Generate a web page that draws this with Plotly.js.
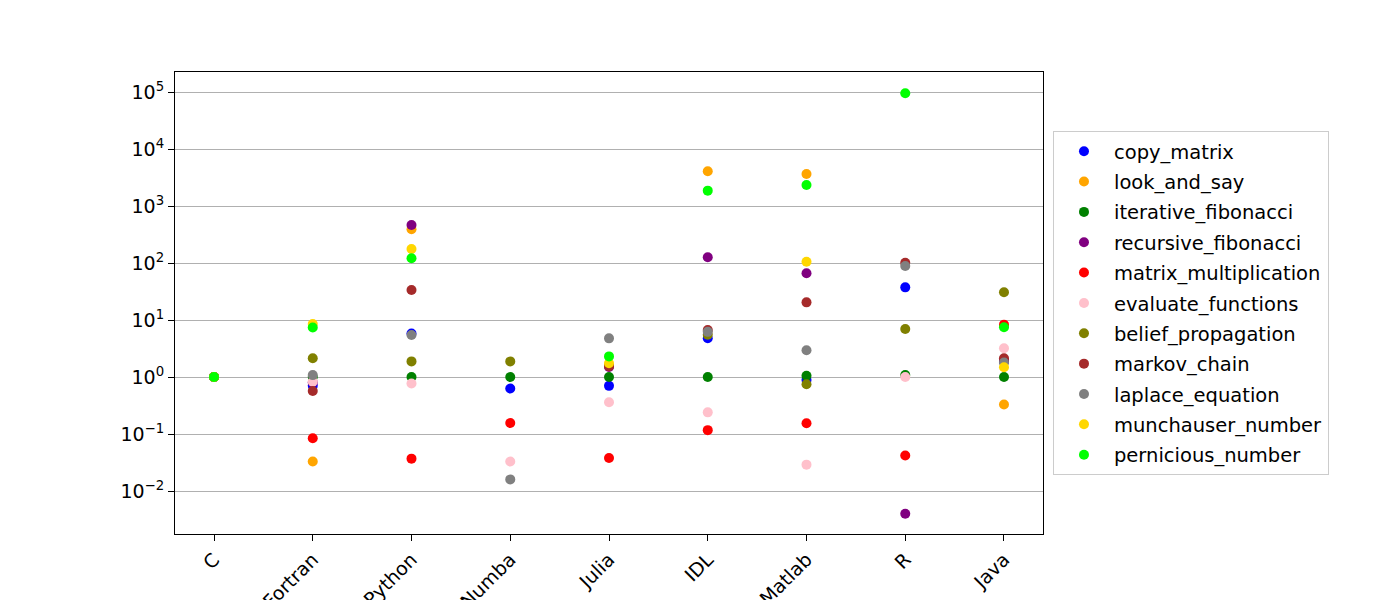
<!DOCTYPE html>
<html>
<head>
<meta charset="utf-8">
<script src="https://cdn.plot.ly/plotly-3.0.1.min.js"></script>
<style>html,body{margin:0;padding:0;background:#fff;}</style>
</head>
<body>
<div id="chart" style="width:1400px;height:600px;"></div>
<script>
const languages = ["C", "Fortran", "Python", "Numba", "Julia", "IDL", "Matlab", "R", "Java"];

const copy_matrix           = [1, 0.70, 5.8, 0.63, 0.70, 4.8, 0.89, 37.4, 1.85];
const look_and_say          = [1, 0.033, 390, null, 1.6, 4060, 3650, null, 0.33];
const iterative_fibonacci   = [1, 1.0, 1.0, 1.0, 1.0, 1.0, 1.05, 1.08, 1.0];
const recursive_fibonacci   = [1, 0.8, 464, null, 1.5, 126, 66, 0.0040, 1.99];
const matrix_multiplication = [1, 0.084, 0.037, 0.156, 0.038, 0.117, 0.154, 0.042, 8.3];
const evaluate_functions    = [1, 0.83, 0.77, 0.033, 0.36, 0.24, 0.029, 1.0, 3.19];
const belief_propagation    = [1, 2.13, 1.88, 1.88, 1.6, 5.5, 0.745, 6.95, 30.6];
const markov_chain          = [1, 0.57, 33.6, null, 1.55, 6.7, 20.4, 101, 2.13];
const laplace_equation      = [1, 1.08, 5.45, 0.016, 4.77, 6.2, 2.94, 88.5, 1.8];
const munchauser_number     = [1, 8.5, 176, null, 1.74, null, 105, null, 1.48];
const pernicious_number     = [1, 7.4, 121, null, 2.3, 1860, 2330, 94800, 7.45];

const seriesNames = ["copy_matrix", "look_and_say", "iterative_fibonacci", "recursive_fibonacci",
  "matrix_multiplication", "evaluate_functions", "belief_propagation", "markov_chain",
  "laplace_equation", "munchauser_number", "pernicious_number"];
const seriesValues = [copy_matrix, look_and_say, iterative_fibonacci, recursive_fibonacci,
  matrix_multiplication, evaluate_functions, belief_propagation, markov_chain,
  laplace_equation, munchauser_number, pernicious_number];
const seriesColors = ["#0000ff", "#ffa500", "#008000", "#800080", "#ff0000", "#ffc0cb",
  "#808000", "#a52a2a", "#808080", "#ffd700", "#00ff00"];

const yTickVals = [0.01, 0.1, 1, 10, 100, 1000, 10000, 100000];
const yTickText = ["10<sup>−2</sup>", "10<sup>−1</sup>", "10<sup>0</sup>", "10<sup>1</sup>",
  "10<sup>2</sup>", "10<sup>3</sup>", "10<sup>4</sup>", "10<sup>5</sup>"];

const xIdx = languages.map((_, i) => i);

const traces = seriesNames.map((name, k) => ({
  type: "scatter",
  mode: "markers",
  name: name,
  legendgroup: name,
  x: xIdx,
  y: seriesValues[k],
  marker: {color: seriesColors[k], size: 10},
  cliponaxis: false
}));

const layout = {
  width: 1400,
  height: 600,
  margin: {l: 175, r: 357, t: 72, b: 66},
  paper_bgcolor: "#fff",
  plot_bgcolor: "#fff",
  font: {family: "DejaVu Sans", size: 19, color: "#000"},
  showlegend: true,
  legend: {
    x: 1.0115, xanchor: "left", y: 0.5, yanchor: "middle",
    bordercolor: "#cccccc", borderwidth: 1,
    font: {family: "DejaVu Sans", size: 19.5},
    tracegroupgap: 2,
    traceorder: "grouped",
    itemwidth: 50
  },
  xaxis: {
    range: [-0.395, 8.395],
    tickvals: xIdx,
    ticktext: languages,
    tickangle: -45,
    showgrid: false,
    zeroline: false,
    showline: true, mirror: true, linecolor: "#000", linewidth: 1,
    ticks: "outside", ticklen: 6, tickcolor: "#000",
    tickfont: {family: "DejaVu Sans", size: 19}
  },
  yaxis: {
    type: "log",
    range: [-2.754, 5.351],
    tickvals: yTickVals,
    ticktext: yTickText,
    showgrid: true, gridcolor: "#b0b0b0", gridwidth: 1,
    zeroline: false,
    showline: true, mirror: true, linecolor: "#000", linewidth: 1,
    ticks: "outside", ticklen: 6, tickcolor: "#000",
    tickfont: {family: "DejaVu Sans", size: 19}
  }
};

Plotly.newPlot("chart", traces, layout, {displayModeBar: false, staticPlot: true});
</script>
</body>
</html>
